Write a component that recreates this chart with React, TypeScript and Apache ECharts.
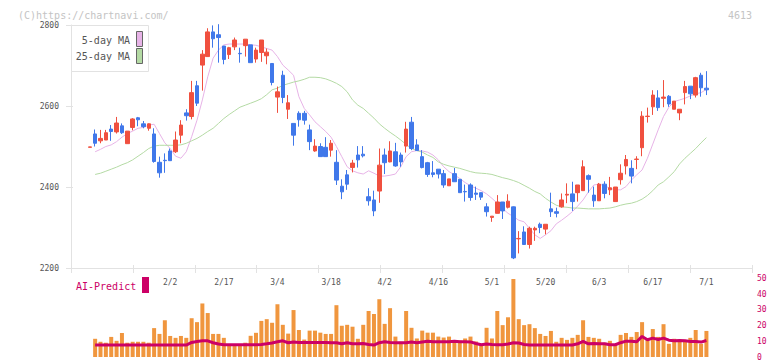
import React, { useEffect, useRef } from 'react';
import * as echarts from 'echarts';

const dates = [
  '1/9', '1/13', '1/14', '1/15', '1/16', '1/19', '1/20', '1/21', '1/22', '1/23',
  '1/26', '1/27', '1/28', '1/29', '1/30', '2/2', '2/3', '2/4', '2/5', '2/6',
  '2/9', '2/10', '2/12', '2/13', '2/16', '2/17', '2/18', '2/19', '2/20', '2/24',
  '2/25', '2/26', '2/27', '3/2', '3/3', '3/4', '3/5', '3/6', '3/9', '3/10',
  '3/11', '3/12', '3/13', '3/16', '3/17', '3/18', '3/19', '3/23', '3/24', '3/25',
  '3/26', '3/27', '3/30', '3/31', '4/1', '4/2', '4/3', '4/6', '4/7', '4/8',
  '4/9', '4/10', '4/13', '4/14', '4/15', '4/16', '4/17', '4/20', '4/21', '4/22',
  '4/23', '4/24', '4/27', '4/28', '4/30', '5/1', '5/7', '5/8', '5/11', '5/12',
  '5/13', '5/14', '5/15', '5/18', '5/19', '5/20', '5/21', '5/22', '5/25', '5/26',
  '5/27', '5/28', '5/29', '6/1', '6/2', '6/3', '6/4', '6/5', '6/8', '6/9',
  '6/10', '6/11', '6/12', '6/15', '6/16', '6/17', '6/18', '6/19', '6/22', '6/23',
  '6/24', '6/25', '6/26', '6/29', '6/30', '7/1',
];

const opens = [
  2498, 2531, 2514, 2516, 2543, 2536, 2551, 2507, 2547, 2571,
  2556, 2545, 2531, 2461, 2466, 2489, 2487, 2528, 2583, 2574,
  2650, 2701, 2722, 2783, 2776, 2748, 2727, 2746, 2730, 2749,
  2751, 2716, 2732, 2724, 2705, 2622, 2676, 2592, 2557, 2582,
  2582, 2541, 2489, 2500, 2498, 2491, 2461, 2402, 2430, 2448,
  2479, 2481, 2376, 2368, 2390, 2479, 2462, 2487, 2479, 2501,
  2560, 2504, 2475, 2460, 2435, 2444, 2433, 2403, 2433, 2419,
  2389, 2405, 2385, 2386, 2351, 2325, 2335, 2363, 2350, 2351,
  2272, 2289, 2258, 2294, 2308, 2296, 2346, 2339, 2351, 2380,
  2383, 2386, 2391, 2428, 2380, 2366, 2407, 2393, 2364, 2418,
  2452, 2446, 2468, 2497, 2574, 2598, 2620, 2619, 2624, 2592,
  2583, 2633, 2649, 2627, 2676, 2644,
];

const closes = [
  2499, 2508, 2520, 2534, 2537, 2558, 2534, 2538, 2568, 2566,
  2549, 2556, 2463, 2435, 2465, 2465, 2516, 2553, 2576, 2633,
  2607, 2728, 2783, 2766, 2769, 2715, 2744, 2763, 2729, 2765,
  2707, 2738, 2763, 2733, 2658, 2635, 2621, 2608, 2528, 2566,
  2565, 2512, 2501, 2475, 2475, 2508, 2417, 2388, 2407, 2459,
  2467, 2477, 2366, 2341, 2454, 2460, 2489, 2452, 2462, 2543,
  2495, 2490, 2448, 2431, 2431, 2432, 2405, 2420, 2413, 2386,
  2388, 2374, 2382, 2375, 2339, 2328, 2363, 2341, 2365, 2225,
  2273, 2258, 2298, 2298, 2300, 2308, 2339, 2335, 2368, 2382,
  2364, 2405, 2450, 2419, 2366, 2407, 2384, 2398, 2400, 2434,
  2468, 2427, 2469, 2575, 2575, 2627, 2596, 2622, 2605, 2612,
  2592, 2648, 2630, 2670, 2645, 2640,
];

const lows = [
  2498, 2500, 2508, 2516, 2514, 2532, 2531, 2507, 2540, 2550,
  2545, 2539, 2460, 2423, 2435, 2465, 2484, 2508, 2564, 2567,
  2600, 2638, 2722, 2744, 2707, 2703, 2716, 2738, 2707, 2722,
  2707, 2707, 2709, 2703, 2651, 2583, 2607, 2568, 2502, 2549,
  2554, 2491, 2487, 2475, 2475, 2475, 2405, 2370, 2393, 2436,
  2448, 2473, 2354, 2328, 2361, 2432, 2461, 2450, 2450, 2485,
  2491, 2490, 2446, 2425, 2424, 2421, 2398, 2403, 2413, 2386,
  2364, 2366, 2368, 2368, 2327, 2314, 2335, 2321, 2347, 2222,
  2236, 2258, 2248, 2267, 2286, 2283, 2326, 2325, 2349, 2360,
  2341, 2364, 2391, 2386, 2351, 2366, 2372, 2380, 2364, 2406,
  2431, 2409, 2444, 2476, 2559, 2578, 2588, 2597, 2598, 2592,
  2565, 2604, 2617, 2621, 2623, 2627,
];

const highs = [
  2499, 2542, 2541, 2541, 2553, 2573, 2557, 2538, 2570, 2573,
  2563, 2557, 2545, 2475, 2483, 2495, 2537, 2565, 2592, 2662,
  2662, 2738, 2792, 2799, 2802, 2748, 2746, 2769, 2744, 2765,
  2751, 2744, 2763, 2742, 2705, 2648, 2687, 2627, 2557, 2587,
  2588, 2554, 2518, 2508, 2523, 2516, 2491, 2419, 2442, 2467,
  2501, 2501, 2397, 2391, 2495, 2495, 2513, 2509, 2485, 2561,
  2573, 2518, 2491, 2462, 2464, 2444, 2442, 2420, 2447, 2419,
  2406, 2409, 2401, 2386, 2360, 2328, 2380, 2363, 2382, 2352,
  2291, 2303, 2302, 2302, 2312, 2308, 2386, 2349, 2384, 2409,
  2413, 2405, 2466, 2431, 2401, 2410, 2414, 2425, 2400, 2456,
  2479, 2466, 2476, 2587, 2596, 2639, 2639, 2664, 2627, 2612,
  2592, 2662, 2649, 2672, 2682, 2686,
];

const ma5 = [
  null, 2487, 2493, 2500, 2504, 2512, 2523, 2532, 2538, 2545,
  2547, 2553, 2555, 2532, 2509, 2495, 2476, 2471, 2487, 2524,
  2565, 2615, 2672, 2718, 2738, 2751, 2753, 2753, 2753, 2753,
  2751, 2750, 2746, 2742, 2738, 2722, 2701, 2689, 2676, 2623,
  2594, 2578, 2561, 2549, 2537, 2523, 2500, 2475, 2450, 2440,
  2435, 2432, 2440, 2434, 2427, 2427, 2429, 2432, 2450, 2475,
  2487, 2490, 2489, 2486, 2479, 2467, 2450, 2438, 2430, 2421,
  2411, 2403, 2397, 2391, 2383, 2372, 2360, 2347, 2335, 2327,
  2318, 2314, 2298, 2282, 2273, 2282, 2292, 2309, 2318, 2328,
  2339, 2353, 2368, 2388, 2405, 2407, 2403, 2397, 2393, 2393,
  2401, 2417, 2430, 2442, 2471, 2506, 2541, 2574, 2597, 2611,
  2615, 2619, 2625, 2630, 2633, 2641,
];

const ma25 = [
  null, 2431, 2434, 2439, 2444, 2449, 2455, 2460, 2467, 2476,
  2485, 2495, 2501, 2503, 2503, 2503, 2503, 2504, 2508, 2514,
  2520, 2528, 2537, 2545, 2557, 2569, 2579, 2588, 2597, 2602,
  2607, 2612, 2618, 2628, 2640, 2644, 2651, 2655, 2659, 2662,
  2666, 2671, 2671, 2670, 2667, 2662, 2656, 2648, 2635, 2615,
  2602, 2594, 2582, 2570, 2556, 2545, 2535, 2526, 2516, 2505,
  2495, 2490, 2486, 2479, 2473, 2462, 2456, 2452, 2449, 2446,
  2442, 2438, 2435, 2434, 2433, 2431, 2427, 2423, 2420, 2416,
  2411, 2404, 2397, 2389, 2383, 2372, 2363, 2355, 2351, 2350,
  2348, 2348, 2347, 2346, 2346, 2346, 2347, 2348, 2351, 2355,
  2358, 2360, 2364, 2370, 2379, 2391, 2405, 2413, 2425, 2438,
  2457, 2471, 2483, 2495, 2509, 2522,
];

const volumes = [
  null, 11.6, 9.7, 9.1, 12.8, 10.3, 15.3, 9.1, 9.7, 9.7,
  9.7, 9.1, 18.4, 14.7, 23.4, 13.4, 12.2, 13.4, 12.2, 24.7,
  22.2, 34.1, 28, 14.7, 14.7, 12.2, 7.8, 7.8, 7.8, 9.1,
  13.5, 15.4, 23, 24.1, 21.8, 33.6, 20.5, 14.9, 29.9, 17.2,
  11.1, 16.8, 16.8, 15.5, 14.7, 14.7, 33, 19.9, 20.5, 19.3,
  11.6, 20.5, 29.3, 27.4, 36.8, 21.1, 31.1, 13, 9.7, 29.3,
  18.6, 11.8, 16.8, 15.5, 15.5, 13, 12.4, 13, 10.5, 10.5,
  11.8, 13, 9.9, 8, 18.6, 11.8, 29.3, 20.3, 25.3, 49.7,
  24.1, 20.3, 20.9, 18.4, 14.7, 13.4, 16.6, 9.7, 12.2, 10.9,
  12.2, 14.1, 23.4, 12.8, 12.2, 11.6, 9.1, 10.3, 7.8, 14.1,
  15.3, 12.8, 15.9, 22.2, 11.6, 17.8, 12.8, 20.9, 8.4, 11.6,
  10.9, 10.9, 12.2, 17.2, 8.4, 16.6,
];

const aiPredict = [
  null, 7.6, 7.6, 7.6, 7.6, 7.6, 7.6, 7.6, 7.6, 7.6,
  7.6, 7.6, 7.6, 7.6, 7.6, 7.6, 7.6, 7.6, 7.6, 9.3,
  9.9, 10.3, 10.3, 9.1, 8.3, 7.8, 7.8, 7.8, 7.8, 7.8,
  7.8, 7.8, 8.0, 8.4, 8.9, 9.7, 10.3, 9.1, 9.6, 9.3,
  9.3, 9.3, 9.3, 9.3, 9.3, 9.1, 9.1, 8.4, 9.1, 8.4,
  8.4, 8.6, 8.0, 7.6, 9.1, 9.7, 9.3, 9.1, 9.1, 9.1,
  9.6, 9.1, 9.6, 10.1, 9.7, 9.7, 9.7, 9.7, 10.1, 9.7,
  9.7, 9.6, 8.6, 7.8, 8.3, 8.0, 7.8, 7.8, 8.3, 9.1,
  8.9, 8.0, 7.6, 7.6, 7.6, 7.6, 7.6, 7.6, 7.6, 7.6,
  7.6, 8.4, 9.9, 8.4, 8.6, 8.4, 8.4, 7.8, 7.8, 9.1,
  10.1, 10.1, 9.7, 13.1, 11.0, 12.0, 11.2, 12.0, 10.7, 10.3,
  10.5, 10.3, 9.9, 9.9, 9.5, 10.5,
];

const tickLabels = ['2/2', '2/17', '3/4', '3/18', '4/2', '4/16', '5/1', '5/20', '6/3', '6/17', '7/1'];

const PAD_BEFORE = 3;
const PAD_AFTER = 8;

const MONO = '"DejaVu Sans Mono", "Liberation Mono", monospace';
const UP = '#f0503f';
const DOWN = '#4078ea';
const AXIS = '#e2e2e2';

export default function App() {
  const ref = useRef<HTMLDivElement>(null);

  useEffect(() => {
    if (!ref.current) return;
    const chart = echarts.init(ref.current, null, { renderer: 'svg' });

    const cats = [
      ...Array.from({ length: PAD_BEFORE }, (_, i) => `pre${i}`),
      ...dates,
      ...Array.from({ length: PAD_AFTER }, (_, i) => `post${i}`),
    ];
    const lead = Array.from({ length: PAD_BEFORE }, () => '-');
    const pad = (arr: (number | null)[]) => [...lead, ...arr.map((v) => (v == null ? '-' : v))];
    const candles = [...lead, ...dates.map((_, i) => [opens[i], closes[i], lows[i], highs[i]])];

    chart.setOption({
      animation: false,
      backgroundColor: '#ffffff',
      title: [
        {
          text: '(C)https://chartnavi.com/',
          left: 13,
          top: 5,
          textStyle: { fontFamily: MONO, fontSize: 10, fontWeight: 'normal', color: '#c4c4c4' },
        },
        {
          text: '4613',
          right: 15,
          top: 5,
          textStyle: { fontFamily: MONO, fontSize: 10, fontWeight: 'normal', color: '#c4c4c4' },
        },
      ],
      grid: [
        { left: 71, right: 20, top: 25, height: 243 },
        { left: 71, right: 20, top: 278.5, height: 80 },
      ],
      xAxis: [
        {
          type: 'category',
          gridIndex: 0,
          data: cats,
          boundaryGap: true,
          axisLine: { show: false },
          axisTick: { show: false },
          splitLine: { show: false },
          axisLabel: {
            interval: (_i: number, v: string) => tickLabels.includes(v),
            fontFamily: MONO,
            fontSize: 8,
            color: '#555555',
            margin: 10,
          },
        },
        {
          type: 'value',
          gridIndex: 0,
          min: 0,
          max: 11,
          interval: 1,
          position: 'bottom',
          axisLine: { show: true, lineStyle: { color: AXIS, width: 1 } },
          axisTick: { show: true, length: 5, lineStyle: { color: AXIS } },
          axisLabel: { show: false },
          splitLine: { show: false },
        },
        {
          type: 'value',
          gridIndex: 0,
          min: 0,
          max: 11,
          interval: 1,
          position: 'bottom',
          axisLine: { show: false },
          axisTick: { show: true, inside: true, length: 3, lineStyle: { color: AXIS } },
          axisLabel: { show: false },
          splitLine: { show: false },
        },
        {
          type: 'category',
          gridIndex: 1,
          data: cats,
          boundaryGap: true,
          show: false,
        },
      ],
      yAxis: [
        {
          type: 'value',
          gridIndex: 0,
          min: 2200,
          max: 2800,
          interval: 200,
          position: 'left',
          axisLine: { show: true, lineStyle: { color: AXIS } },
          axisTick: { show: true, length: 5, lineStyle: { color: AXIS } },
          axisLabel: {
            fontFamily: MONO,
            fontSize: 8,
            color: '#555555',
            margin: 12,
            formatter: (v: number) => String(v),
          },
          splitLine: { show: false },
        },
        {
          type: 'value',
          gridIndex: 0,
          min: 2200,
          max: 2800,
          interval: 200,
          position: 'left',
          axisLine: { show: false },
          axisTick: { show: true, inside: true, length: 2, lineStyle: { color: AXIS } },
          axisLabel: { show: false },
          splitLine: { show: false },
        },
        {
          type: 'value',
          gridIndex: 1,
          min: 0,
          max: 50,
          interval: 10,
          position: 'right',
          axisLine: { show: false },
          axisTick: { show: false },
          axisLabel: {
            fontFamily: MONO,
            fontSize: 8,
            color: '#cc0066',
            margin: 5,
            formatter: (v: number) => String(v),
          },
          splitLine: { show: false },
        },
      ],
      series: [
        {
          name: 'price',
          type: 'candlestick',
          xAxisIndex: 0,
          yAxisIndex: 0,
          data: candles,
          barWidth: 4,
          itemStyle: {
            color: UP,
            color0: DOWN,
            borderColor: UP,
            borderColor0: DOWN,
            borderWidth: 1,
          },
        },
        {
          name: '5-day MA',
          type: 'line',
          xAxisIndex: 0,
          yAxisIndex: 0,
          data: pad(ma5),
          showSymbol: false,
          lineStyle: { color: '#e7b3e7', width: 1 },
          itemStyle: { color: '#e7b3e7' },
          z: 1,
        },
        {
          name: '25-day MA',
          type: 'line',
          xAxisIndex: 0,
          yAxisIndex: 0,
          data: pad(ma25),
          showSymbol: false,
          lineStyle: { color: '#b4daa4', width: 1 },
          itemStyle: { color: '#b4daa4' },
          z: 1,
        },
        {
          name: 'Volume',
          type: 'bar',
          xAxisIndex: 3,
          yAxisIndex: 2,
          data: pad(volumes),
          barWidth: 4,
          itemStyle: { color: '#f0963e' },
        },
        {
          name: 'AI-Predict',
          type: 'line',
          xAxisIndex: 3,
          yAxisIndex: 2,
          data: pad(aiPredict),
          showSymbol: false,
          lineStyle: { color: '#cc0066', width: 3 },
          itemStyle: { color: '#cc0066' },
          z: 3,
        },
      ],
      graphic: [
        {
          type: 'rect',
          shape: { x: 71.5, y: 25.5, width: 77, height: 46 },
          style: { fill: '#ffffff', stroke: '#e2e2e2', lineWidth: 1 },
          z: 50,
        },
        {
          type: 'text',
          z: 51,
          style: {
            text: '5-day MA',
            x: 130,
            y: 40,
            align: 'right',
            verticalAlign: 'middle',
            font: `10px ${MONO}`,
            fill: '#555555',
          },
        },
        {
          type: 'text',
          z: 51,
          style: {
            text: '25-day MA',
            x: 130,
            y: 56,
            align: 'right',
            verticalAlign: 'middle',
            font: `10px ${MONO}`,
            fill: '#555555',
          },
        },
        {
          type: 'rect',
          z: 51,
          shape: { x: 136.5, y: 31.5, width: 6, height: 15 },
          style: { fill: '#e7b3e7', stroke: '#666666', lineWidth: 1 },
        },
        {
          type: 'rect',
          z: 51,
          shape: { x: 136.5, y: 48.5, width: 6, height: 15 },
          style: { fill: '#b4daa4', stroke: '#666666', lineWidth: 1 },
        },
        {
          type: 'text',
          z: 51,
          style: {
            text: 'AI-Predict',
            x: 76,
            y: 286,
            align: 'left',
            verticalAlign: 'middle',
            font: `10px ${MONO}`,
            fill: '#cc0066',
          },
        },
        {
          type: 'rect',
          z: 51,
          shape: { x: 142, y: 277, width: 7, height: 16 },
          style: { fill: '#cc0066' },
        },
      ],
    });

    return () => chart.dispose();
  }, []);

  return (
    <div
      ref={ref}
      style={{ position: 'absolute', left: 0, top: 0, width: 772, height: 361 }}
    />
  );
}
